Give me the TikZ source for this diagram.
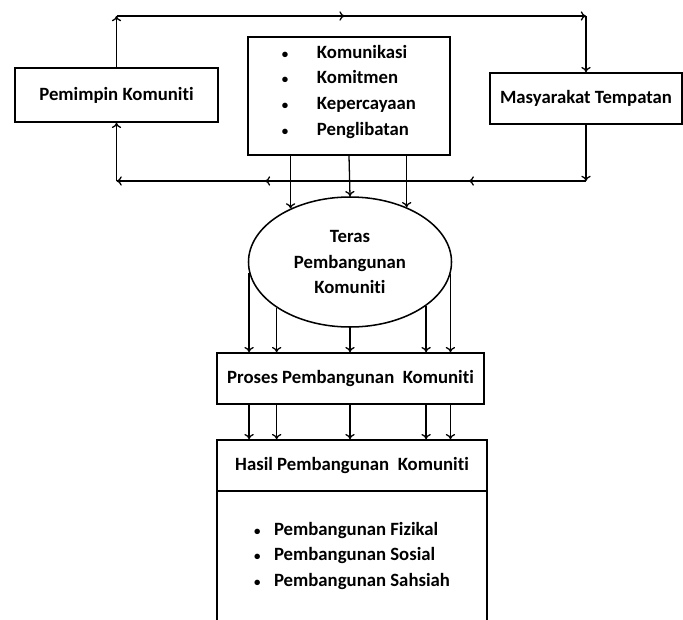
\documentclass[tikz,border=0pt]{standalone}
\usepackage{fontspec}
\setmainfont{Carlito}[Ligatures=NoCommon]
\usetikzlibrary{shapes.geometric,decorations.markings,arrows.meta}
\newcommand{\butir}[1]{\makebox[#1][l]{\fontsize{11}{11}\selectfont\textbullet}}
\tikzset{
    kotak/.style={draw,line width=1.3pt,rectangle,align=center,font=\bfseries\fontsize{16}{21.8}\selectfont},
    panah/.style={->,line width=1.1pt},
}
\begin{document}
\begin{tikzpicture}[x=0.03cm,y=-0.03cm,>={To[length=4.5pt,width=8pt]}]
        \useasboundingbox (0,0) rectangle (683,619);
        \clip (0,0) rectangle (683,619);
        \node[kotak,minimum width=6.09cm,minimum height=1.62cm] (pemimpin) at (116.5,95) {Pemimpin Komuniti};
        \node[kotak,minimum width=5.76cm,minimum height=1.53cm] (masyarakat) at (586,98.5) {Masyarakat Tempatan};
        \node[kotak,align=left,text depth=10pt,minimum width=6.06cm,minimum height=3.54cm] (nilai) at (349,96)
            {\butir{1.05cm}Komunikasi\\ \butir{1.05cm}Komitmen\\ \butir{1.05cm}Kepercayaan\\ \butir{1.05cm}Penglibatan};
        \node[kotak,ellipse,inner sep=0pt,minimum width=6.09cm,minimum height=3.9cm] (teras) at (350,262) {Teras\\Pembangunan\\Komuniti};
        \node[kotak,minimum width=8.01cm,minimum height=1.53cm] (proses) at (350.5,378.5) {Proses Pembangunan \ Komuniti};
        \node[kotak,minimum width=8.1cm,minimum height=1.53cm] (hasil) at (352,465.5) {Hasil Pembangunan \ Komuniti};
        \node[kotak,align=left,minimum width=8.1cm,minimum height=3.9cm] (hasilisi) at (352,556)
            {\butir{0.6cm}Pembangunan Fizikal\\ \butir{0.6cm}Pembangunan Sosial\\ \butir{0.6cm}Pembangunan Sahsiah};
        % lingkaran atas dan bawah
        \coordinate (kiriatas) at (pemimpin.north |- 0,16);
        \coordinate (kananatas) at (masyarakat.north |- 0,16);
        \coordinate (kiribawah) at (pemimpin.south |- 0,181);
        \coordinate (kananbawah) at (masyarakat.south |- 0,181);
        \draw[panah] (pemimpin.north) -- (kiriatas);
        \draw[panah,decoration={markings,mark=at position 0.486 with {\arrow{>}}},postaction={decorate}] (kiriatas) -- (kananatas);
        \draw[panah] (kananatas) -- (masyarakat.north);
        \draw[panah] (masyarakat.south) -- (kananbawah);
        \draw[panah,decoration={markings,mark=at position 0.25 with {\arrow{>}},mark=at position 0.684 with {\arrow{>}}},postaction={decorate}] (kananbawah) -- (kiribawah);
        \draw[panah] (kiribawah) -- (pemimpin.south);
        % ke teras
        \draw[panah] (nilai.south -| teras.138) -- (teras.138);
        \draw[panah] (nilai.south) -- (teras.north);
        \draw[panah] (nilai.south -| teras.44) -- (teras.44);
        % ke proses dan hasil
        \foreach \sudut in {186,212,270,330,353} {
            \draw[panah] (teras.\sudut) -- (proses.north -| teras.\sudut);
            \draw[panah] (proses.south -| teras.\sudut) -- (hasil.north -| teras.\sudut);
        }
\end{tikzpicture}
\end{document}
